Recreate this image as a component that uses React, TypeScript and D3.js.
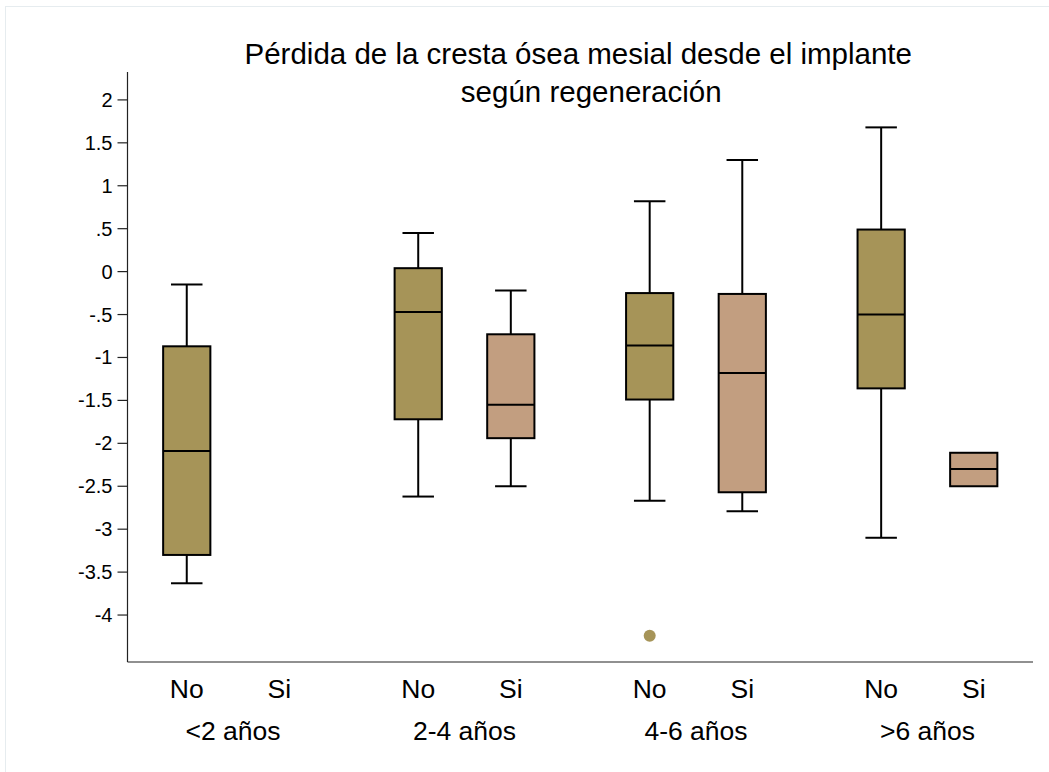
import React from "react";
import * as d3 from "d3";

// Age groups since implant and regeneration levels
const ageGroups = ["<2 años", "2-4 años", "4-6 años", ">6 años"];
const regenLevels = ["No", "Si"];

// Box statistics for "No" regeneration, one entry per age group
const noLower = [-3.63, -2.62, -2.67, -3.1];
const noQ1 = [-3.3, -1.72, -1.49, -1.36];
const noMedian = [-2.09, -0.47, -0.86, -0.5];
const noQ3 = [-0.87, 0.04, -0.25, 0.49];
const noUpper = [-0.15, 0.45, 0.82, 1.68];

// Box statistics for "Si" regeneration (no data in the first age group)
const siLower = [null, -2.5, -2.79, -2.5];
const siQ1 = [null, -1.94, -2.57, -2.5];
const siMedian = [null, -1.55, -1.18, -2.3];
const siQ3 = [null, -0.73, -0.26, -2.11];
const siUpper = [null, -0.22, 1.3, -2.11];

// Outside values: [age group index, regeneration index, value]
const outliers: [number, number, number][] = [[2, 0, -4.24]];

// Y axis ticks and their labels
const yTicks = [2, 1.5, 1, 0.5, 0, -0.5, -1, -1.5, -2, -2.5, -3, -3.5, -4];
const yTickLabels = ["2", "1.5", "1", ".5", "0", "-.5", "-1", "-1.5", "-2", "-2.5", "-3", "-3.5", "-4"];

const titleLines = ["Pérdida de la cresta ósea mesial desde el implante", "según regeneración"];
const titleShift = [0, 13];

const W = 1049;
const H = 772;
const FONT = "'Liberation Sans', Arial, sans-serif";
const fills = ["#a69458", "#c29e80"];

const plotLeft = 127.5;
const plotRight = 1033;
const plotTop = 72;
const plotBottom = 662;

export default function App() {
  const y = d3.scaleLinear().domain([-4.547, 2.325]).range([plotBottom, plotTop]);
  // slot position: group * 2.5 + level
  const x = d3.scaleLinear().domain([-0.64, 3 * 2.5 + 1 + 0.64]).range([plotLeft, plotRight]);
  const slotW = x(1) - x(0);
  const boxW = slotW * 0.51;
  const capW = slotW * 0.34;

  const series = [
    { lo: noLower, q1: noQ1, med: noMedian, q3: noQ3, hi: noUpper },
    { lo: siLower, q1: siQ1, med: siMedian, q3: siQ3, hi: siUpper },
  ];

  const boxes: React.ReactNode[] = [];
  series.forEach((s, li) => {
    ageGroups.forEach((g, gi) => {
      const q1 = s.q1[gi];
      if (q1 == null) return;
      const cx = x(gi * 2.5 + li);
      const lo = s.lo[gi] as number;
      const hi = s.hi[gi] as number;
      const q3 = s.q3[gi] as number;
      const med = s.med[gi] as number;
      boxes.push(
        <g key={`${li}-${gi}`} stroke="#000" strokeWidth={2} fill="none">
          {hi > q3 && <line x1={cx} x2={cx} y1={y(q3)} y2={y(hi)} />}
          {hi > q3 && <line x1={cx - capW / 2} x2={cx + capW / 2} y1={y(hi)} y2={y(hi)} />}
          {lo < q1 && <line x1={cx} x2={cx} y1={y(q1)} y2={y(lo)} />}
          {lo < q1 && <line x1={cx - capW / 2} x2={cx + capW / 2} y1={y(lo)} y2={y(lo)} />}
          <rect x={cx - boxW / 2} y={y(q3)} width={boxW} height={y(q1) - y(q3)} fill={fills[li]} />
          <line x1={cx - boxW / 2} x2={cx + boxW / 2} y1={y(med)} y2={y(med)} />
        </g>
      );
    });
  });

  return (
    <svg width={W} height={H} style={{ display: "block", position: "absolute", left: 0, top: 0 }}>
      <rect x={0} y={0} width={W} height={H} fill="#fff" />
      <rect x={5.5} y={6.5} width={W} height={H} fill="#fff" stroke="#e6ecef" strokeWidth={1} />

      <g fontFamily={FONT} fontSize={29.5} fill="#000" textAnchor="middle">
        {titleLines.map((t, i) => (
          <text key={i} x={(plotLeft + plotRight) / 2 - 2 + titleShift[i]} y={64 + i * 38}>
            {t}
          </text>
        ))}
      </g>

      {/* Y axis */}
      <line x1={plotLeft} x2={plotLeft} y1={plotTop} y2={plotBottom} stroke="#222" strokeWidth={1.2} />
      {yTicks.map((v, i) => (
        <g key={v}>
          <line x1={plotLeft - 10} x2={plotLeft} y1={y(v)} y2={y(v)} stroke="#222" strokeWidth={1.2} />
          <text x={plotLeft - 15} y={y(v) + 7} textAnchor="end" fontFamily={FONT} fontSize={20} fill="#000">
            {yTickLabels[i]}
          </text>
        </g>
      ))}

      {/* X axis */}
      <line x1={plotLeft} x2={plotRight} y1={plotBottom} y2={plotBottom} stroke="#222" strokeWidth={1.2} />

      {boxes}

      {outliers.map(([gi, li, v], i) => (
        <circle key={i} cx={x(gi * 2.5 + li)} cy={y(v)} r={6} fill={fills[0]} />
      ))}

      <g fontFamily={FONT} fontSize={26.5} fill="#000" textAnchor="middle">
        {ageGroups.map((g, gi) => (
          <g key={g}>
            {regenLevels.map((r, li) => (
              <text key={r} x={x(gi * 2.5 + li)} y={697.5}>
                {r}
              </text>
            ))}
            <text x={x(gi * 2.5 + 0.5)} y={739.5}>
              {g}
            </text>
          </g>
        ))}
      </g>
    </svg>
  );
}
